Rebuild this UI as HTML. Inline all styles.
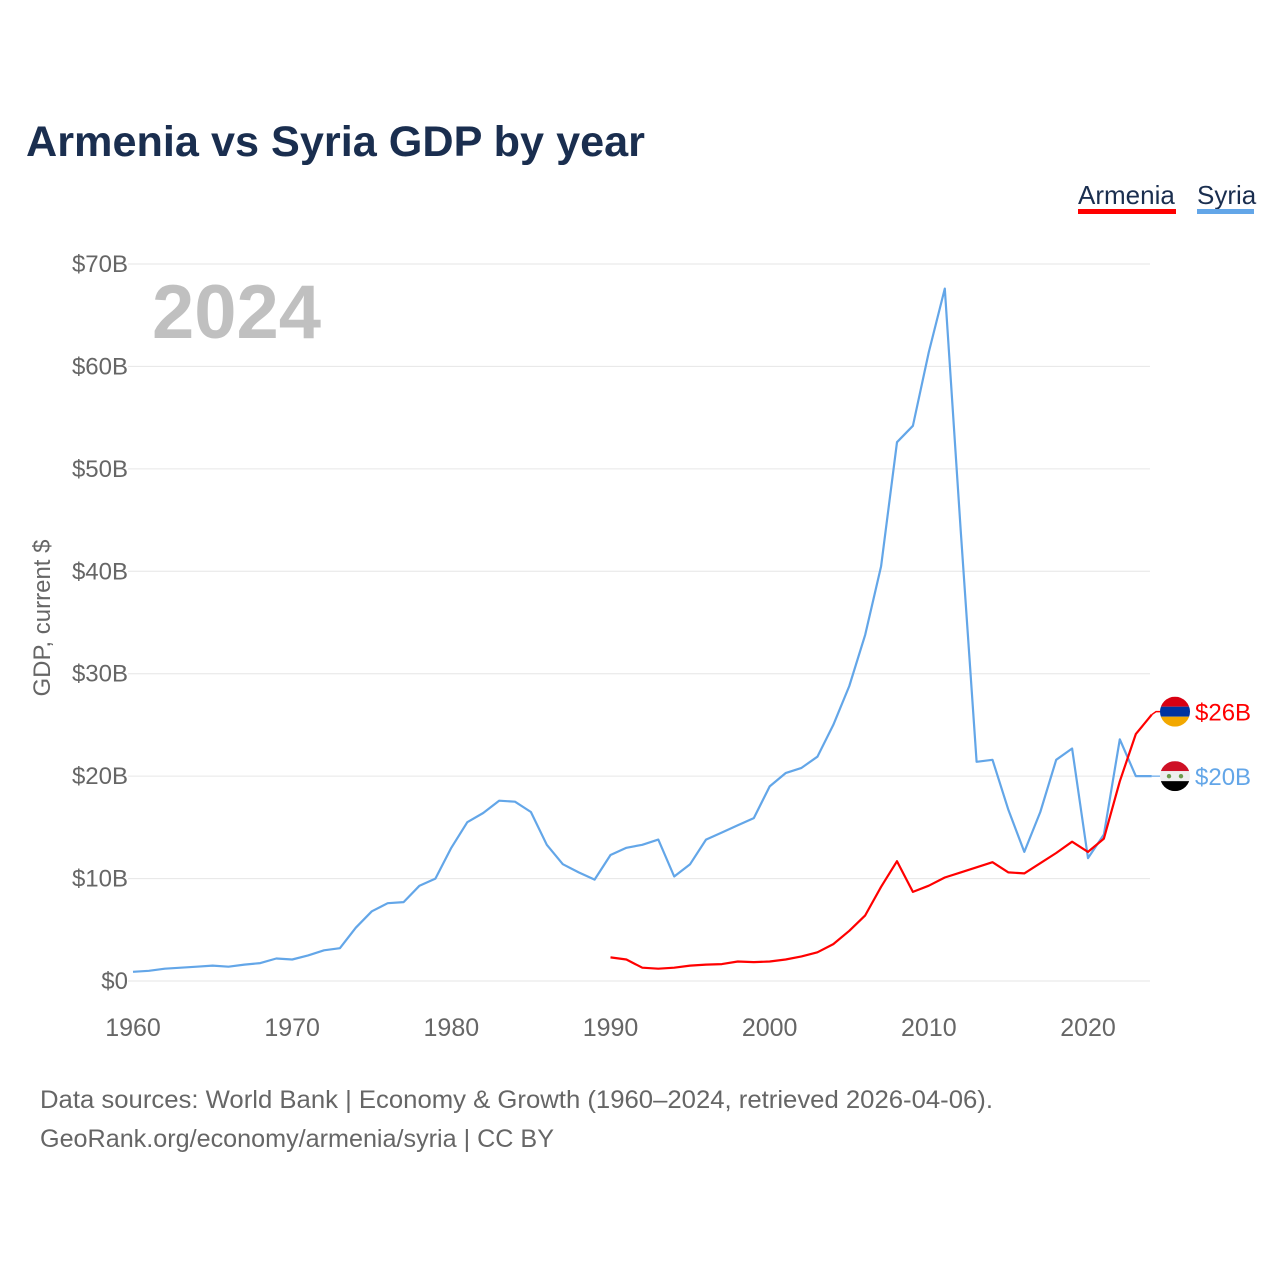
<!DOCTYPE html>
<html><head><meta charset="utf-8"><style>
body{margin:0;background:#fff;width:1280px;height:1280px;overflow:hidden;font-family:"Liberation Sans",sans-serif}
</style></head><body>
<svg id="chart" width="1280" height="1280" xmlns="http://www.w3.org/2000/svg" font-family="Liberation Sans, sans-serif">
<text x="26" y="156" font-size="43" font-weight="bold" fill="#1a2e4f" textLength="619" lengthAdjust="spacingAndGlyphs">Armenia vs Syria GDP by year</text>
<g><text x="1078" y="204" font-size="26" fill="#1a2e4f">Armenia</text><rect x="1078" y="209" width="98" height="5" fill="#ff0000"/></g>
<g><text x="1197" y="204" font-size="26" fill="#1a2e4f">Syria</text><rect x="1197" y="209" width="57" height="5" fill="#63a6e8"/></g>
<g id="grid"></g>
<text x="152" y="338" font-size="76" font-weight="bold" fill="#c0c0c0">2024</text>
<text transform="translate(50,618) rotate(-90)" text-anchor="middle" font-size="24" fill="#666">GDP, current $</text>
<g id="marks"></g>
<text x="40" y="1108" font-size="25" fill="#666" textLength="953" lengthAdjust="spacingAndGlyphs">Data sources: World Bank | Economy &amp; Growth (1960–2024, retrieved 2026-04-06).</text>
<text x="40" y="1147" font-size="25" fill="#666" textLength="514" lengthAdjust="spacingAndGlyphs">GeoRank.org/economy/armenia/syria | CC BY</text>
</svg>
<script>
const yTicks=[0,10,20,30,40,50,60,70];
const xTicks=[1960,1970,1980,1990,2000,2010,2020];
const syriaYears=[];for(let y=1960;y<=2024;y++)syriaYears.push(y);
const syriaValues=[0.9,1.0,1.2,1.3,1.4,1.5,1.4,1.6,1.75,2.2,2.1,2.5,3.0,3.2,5.2,6.8,7.6,7.7,9.3,10.0,13.0,15.5,16.4,17.6,17.5,16.5,13.3,11.4,10.6,9.9,12.3,13.0,13.3,13.8,10.2,11.4,13.8,14.5,15.2,15.9,19.0,20.3,20.8,21.9,25.0,28.8,33.8,40.5,52.6,54.2,61.4,67.6,44,21.4,21.6,16.7,12.6,16.5,21.6,22.7,12.0,14.3,23.6,20.0,20.0];
const armeniaYears=[];for(let y=1990;y<=2024;y++)armeniaYears.push(y);
const armeniaValues=[2.3,2.1,1.3,1.2,1.3,1.5,1.6,1.65,1.9,1.85,1.9,2.1,2.4,2.8,3.6,4.9,6.4,9.2,11.7,8.7,9.3,10.1,10.6,11.1,11.6,10.6,10.5,11.5,12.5,13.6,12.6,13.9,19.5,24.1,26.0];
const ns="http://www.w3.org/2000/svg";
const X=y=>133+(y-1960)*955/60, Y=v=>981-v*10.243;
const grid=document.getElementById('grid'),marks=document.getElementById('marks');
function mk(p,t,a){const e=document.createElementNS(ns,t);for(const k in a)e.setAttribute(k,a[k]);p.appendChild(e);return e;}
yTicks.forEach(v=>{
 const l=mk(grid,'line',{x1:128,x2:1150,y1:Y(v),y2:Y(v),stroke:'#e6e6e6','stroke-width':1});
 
 
 const t=mk(grid,'text',{x:128,y:Y(v)+8,'text-anchor':'end','font-size':24,fill:'#666'});t.textContent='$'+v+(v?'B':'');
 
 
});
xTicks.forEach(v=>{
 const t=mk(grid,'text',{x:X(v),y:1036,'text-anchor':'middle','font-size':25,fill:'#666'});t.textContent=v;
 
 
});
function line(ys,vs,c,name){
 const d=ys.map((y,i)=>(i?'L':'M')+X(y).toFixed(1)+','+Y(vs[i]).toFixed(1)).join('');
 const p=mk(marks,'path',{d:d,fill:'none',stroke:c,'stroke-width':2.2,'stroke-linejoin':'round'});
 
 
}
line(syriaYears,syriaValues,'#63a6e8','syria-line');
line(armeniaYears,armeniaValues,'#ff0000','armenia-line');
const aEnd=armeniaValues[armeniaValues.length-1],sEnd=syriaValues[syriaValues.length-1];
const ay=Y(aEnd)-3,sy=Y(sEnd);
mk(marks,'path',{d:`M${X(2024)},${Y(aEnd)}L1156,${ay}L1162,${ay}`,fill:'none',stroke:'#ff0000','stroke-width':1.5});
mk(marks,'path',{d:`M${X(2024)},${sy}L1162,${sy}`,fill:'none',stroke:'#63a6e8','stroke-width':1.2});
const fa=mk(marks,'g',{});


mk(fa,'clipPath',{id:'ca'});mk(fa.lastChild,'circle',{cx:1175,cy:ay,r:15});
const ga=mk(fa,'g',{'clip-path':'url(#ca)'});
mk(ga,'rect',{x:1160,y:ay-15,width:30,height:10,fill:'#d90012'});
mk(ga,'rect',{x:1160,y:ay-5,width:30,height:10,fill:'#0033a0'});
mk(ga,'rect',{x:1160,y:ay+5,width:30,height:10,fill:'#f2a800'});
const fs=mk(marks,'g',{});


mk(fs,'clipPath',{id:'cs'});mk(fs.lastChild,'circle',{cx:1175,cy:sy,r:15});
const gs=mk(fs,'g',{'clip-path':'url(#cs)'});
mk(gs,'rect',{x:1160,y:sy-15,width:30,height:10,fill:'#ce1126'});
mk(gs,'rect',{x:1160,y:sy-5,width:30,height:10,fill:'#eee'});
mk(gs,'rect',{x:1160,y:sy+5,width:30,height:10,fill:'#000'});
mk(gs,'circle',{cx:1169,cy:sy,r:2.2,fill:'#6a9a4a'});mk(gs,'circle',{cx:1181,cy:sy,r:2.2,fill:'#6a9a4a'});
const la=mk(marks,'text',{x:1195,y:ay+9,'font-size':24,fill:'#ff0000'});la.textContent='$'+Math.round(aEnd)+'B';


const ls=mk(marks,'text',{x:1195,y:sy+9,'font-size':24,fill:'#63a6e8'});ls.textContent='$'+Math.round(sEnd)+'B';


</script>
</body></html>
